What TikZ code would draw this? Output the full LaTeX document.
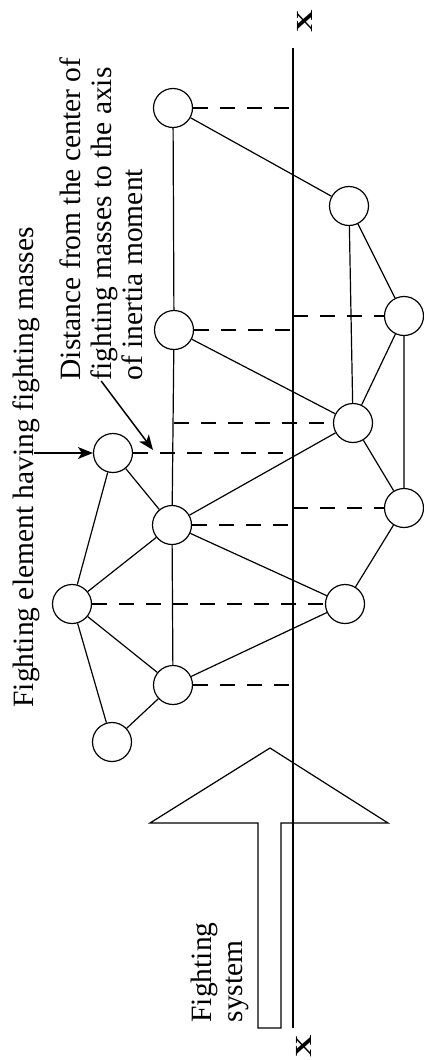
\documentclass[tikz,border=0pt]{standalone}
\usepackage{fontspec}
\setmainfont{Liberation Serif}
\usetikzlibrary{arrows, arrows.meta, positioning}
\tikzset{>={Stealth[length=15pt, width=12pt, inset=4pt]}}
\tikzset{bolita/.style={circle, draw, minimum size=39pt, inner sep=0pt},
	rayita/.style={line width=2pt, dash pattern=on 15pt off 12pt},
	letrero/.style={rotate=90, inner sep=0pt, align=left, font=\fontsize{29.5}{31}\selectfont},
	equis/.style={rotate=90, xscale=1.35, inner sep=0pt, font=\fontsize{23}{23}\selectfont\bfseries}}

\begin{document}
\begin{tikzpicture}[x=1pt, y=-1pt, line width=1.2pt]
	\useasboundingbox (0,0) rectangle (423,1060);
	% axis of inertia moment
	\coordinate (xtop) at (293,48);
	\coordinate (xbot) at (293,1028);
	\draw (xtop) -- (xbot);
	\node [equis] (xa) at (305,21) {X};
	\node [equis] (xb) at (304,1046) {X};

	% fighting masses
	\node [bolita] (a) at (173,108) {};
	\node [bolita] (b) at (349,206) {};
	\node [bolita] (c) at (404,316) {};
	\node [bolita] (d) at (174,330) {};
	\node [bolita] (e) at (353,423) {};
	\node [bolita] (g) at (113,453) {};
	\node [bolita] (f) at (404,508) {};
	\node [bolita] (h) at (172,525) {};
	\node [bolita] (i) at (72,604) {};
	\node [bolita] (j) at (345,604) {};
	\node [bolita] (k) at (173,685) {};
	\node [bolita] (l) at (112,742) {};

	\draw (a) -- (d) -- (h) -- (k);
	\draw (a) -- (b) -- (c) -- (f);
	\draw (b) -- (e);
	\draw (c) -- (e) -- (f) -- (j);
	\draw (d) -- (e) -- (h);
	\draw (g) -- (h) -- (j) -- (k);
	\draw (g) -- (i) -- (h);
	\draw (i) -- (k) -- (l) -- (i);

	% distances to the axis
	\draw [rayita] (a.east) -- (a.east -| xtop);
	\draw [rayita] (c.west -| xtop) -- (c.west);
	\draw [rayita] (d.east) -- (d.east -| xtop);
	\draw [rayita] (e.west -| d) -- (e.west);
	\draw [rayita] (g.east) -- (g.east -| xtop);
	\draw [rayita] (f.west -| xtop) -- (f.west);
	\draw [rayita] (h.east) -- (h.east -| xtop);
	\draw [rayita] (i.east) -- (j.west);
	\draw [rayita] (k.east) -- (k.east -| xtop);

	% fighting system
	\draw (258,1028) -- (258,823) -- (150,823) -- (270,748) -- (388,823) -- (281,823) -- (281,1028) -- cycle;
	\node [letrero, anchor=north west] (sys) at (190,1023) {Fighting\\system};

	\node [letrero, anchor=north west] (elem) at (12,708) {Fighting element having fighting masses};
	\node [letrero, anchor=north west] (dist) at (59,381) {Distance from the center of\\fighting masses to the axis\\of inertia moment};
	\coordinate (elemtail) at (34,453);
	\coordinate (distpt) at (153,450);
	\draw [->, line width=1.5pt] (elemtail) -- (g.west);
	\draw [->, line width=1.5pt] (dist.west) -- (distpt);
\end{tikzpicture}
\end{document}
